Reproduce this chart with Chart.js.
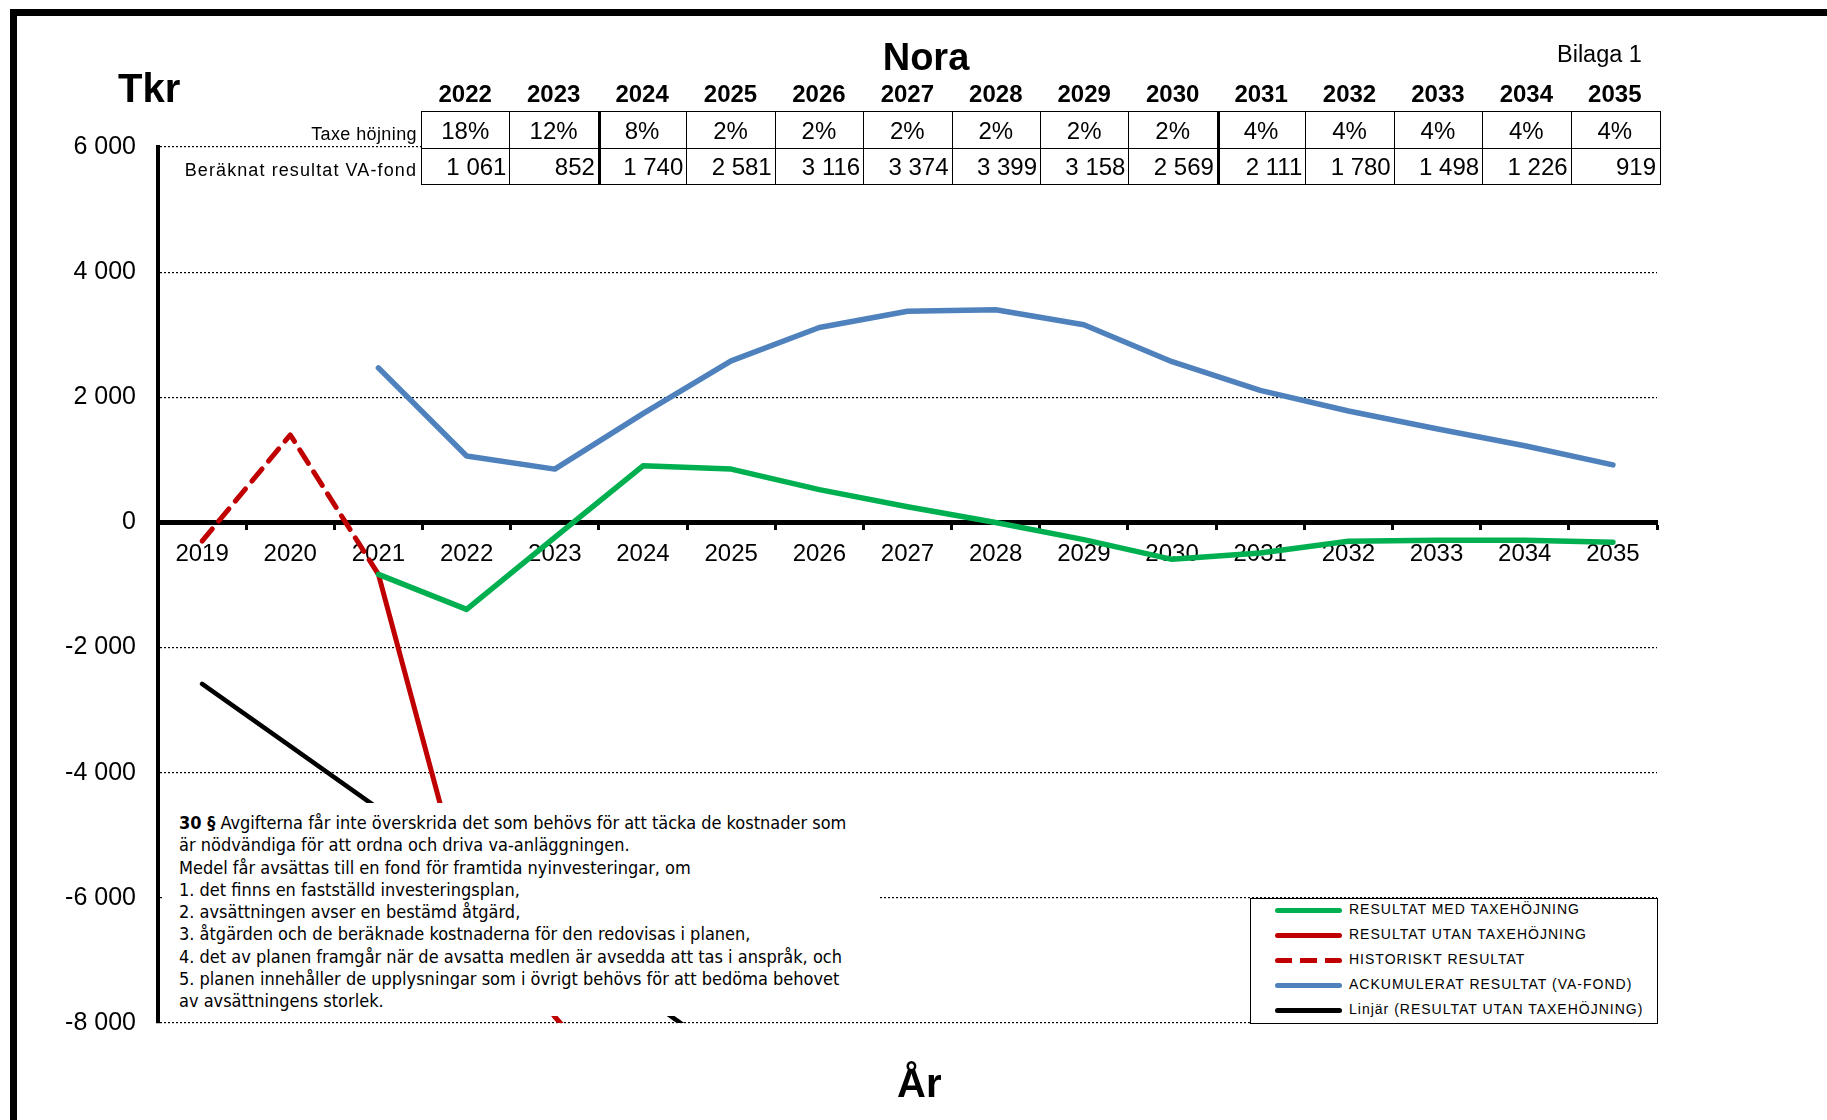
<!DOCTYPE html>
<html>
<head>
<meta charset="utf-8">
<script src="https://cdn.jsdelivr.net/npm/chart.js@4.4.1/dist/chart.umd.min.js"></script>
<style>
  body { margin: 0; background: #fff; }
  #wrap { position: relative; width: 1827px; height: 1120px; overflow: hidden; background: #fff; }
  #frame { position: absolute; left: 10px; top: 9px; width: 2000px; height: 2000px;
           border-top: 7px solid #000; border-left: 7px solid #000; }
  canvas { position: absolute; left: 0; top: 0; }
  .txt { position: absolute; white-space: nowrap; line-height: 1; color: #000; }
  .bold { font-family: 'Liberation Sans', Arial, sans-serif; font-weight: bold; }
  .cond { font-family: 'DejaVu Sans Condensed', 'DejaVu Sans', sans-serif; }
  .sans { font-family: 'Liberation Sans', Arial, sans-serif; }
  #title { left: 926px; top: 38px; font-size: 38px; transform: translateX(-50%); }
  #tkr { left: 118px; top: 68px; font-size: 40px; }
  #ar { left: 897px; top: 1063px; font-size: 40px; }
  #bilaga { left: 1557px; top: 43px; font-size: 23.5px; }
  .cell { position: absolute; box-sizing: border-box; border: 1.5px solid #000; background: #fff; }
  #note { position: absolute; left: 162px; top: 803px; width: 716px; height: 213px; background: #fff;
          box-sizing: border-box; padding: 9px 0 0 17px; font-size: 18px; line-height: 22.3px;
          white-space: nowrap; }
  #legend { position: absolute; left: 1250px; top: 898px; width: 408px; height: 126px; background: #fff;
            box-sizing: border-box; border: 1.5px solid #000; }
  .lgItem { position: absolute; left: 24px; height: 20px; }
  .lgLine { position: absolute; left: 0; top: 8px; width: 67px; height: 0; border-top: 5px solid; border-radius: 3px; }
  .lgText { position: absolute; left: 74px; top: 2px; font-size: 14px; letter-spacing: 1px; }
</style>
</head>
<body>
<div id="wrap">
  <div id="frame"></div>
  <canvas id="myChart" width="1827" height="1120"></canvas>
  <div id="title" class="txt bold">Nora</div>
  <div id="tkr" class="txt bold">Tkr</div>
  <div id="ar" class="txt bold">År</div>
  <div id="bilaga" class="txt sans">Bilaga 1</div>
  <div id="table"></div>
  <div id="note" class="cond">
    <b>30 §</b> Avgifterna får inte överskrida det som behövs för att täcka de kostnader som<br>
    är nödvändiga för att ordna och driva va-anläggningen.<br>
    Medel får avsättas till en fond för framtida nyinvesteringar, om<br>
    1. det finns en fastställd investeringsplan,<br>
    2. avsättningen avser en bestämd åtgärd,<br>
    3. åtgärden och de beräknade kostnaderna för den redovisas i planen,<br>
    4. det av planen framgår när de avsatta medlen är avsedda att tas i anspråk, och<br>
    5. planen innehåller de upplysningar som i övrigt behövs för att bedöma behovet<br>
    av avsättningens storlek.
  </div>
  <div id="legend"></div>
</div>
<script>
const years = ["2019", "2020", "2021", "2022", "2023", "2024", "2025", "2026", "2027",
  "2028", "2029", "2030", "2031", "2032", "2033", "2034", "2035"];

const resultatMedTaxe = [null, null, -830, -1390, -240, 905, 852, 525, 250, 0, -275, -590, -490, -300, -285, -285, -315];
const resultatUtanTaxe = [null, null, -830, -6070, -7900, -9500];
const historisktResultat = [-300, 1400, -830];
const ackumuleratResultat = [null, null, 2470, 1061, 852, 1740, 2581, 3116, 3374, 3399, 3158, 2569, 2111, 1780, 1498, 1226, 919];
const linjarTrend = [-2580, -3575, -4575, -5575, -6575, -7575, -8575];

const tableYears = years.slice(3);
const taxeHojning = ["18%", "12%", "8%", "2%", "2%", "2%", "2%", "2%", "2%", "4%", "4%", "4%", "4%", "4%"];
const vaFond = ackumuleratResultat.slice(3);

const fmtTkr = (v) => {
  const s = Math.abs(v).toString().replace(/\B(?=(\d{3})+(?!\d))/g, " ");
  return (v < 0 ? "-" : "") + s;
};

const axisFont = "'Liberation Sans', Arial, sans-serif";

const ctx = document.getElementById("myChart");
const myChart = new Chart(ctx, {
  type: "line",
  data: {
    labels: years,
    datasets: [
      { label: "RESULTAT MED TAXEHÖJNING", data: resultatMedTaxe, borderColor: "#00b050", borderWidth: 5.5 },
      { label: "RESULTAT UTAN TAXEHÖJNING", data: resultatUtanTaxe, borderColor: "#c00000", borderWidth: 5 },
      { label: "HISTORISKT RESULTAT", data: historisktResultat, borderColor: "#c00000", borderWidth: 5, borderDash: [16, 10] },
      { label: "ACKUMULERAT RESULTAT (VA-FOND)", data: ackumuleratResultat, borderColor: "#4f81bd", borderWidth: 5.5 },
      { label: "Linjär (RESULTAT UTAN TAXEHÖJNING)", data: linjarTrend, borderColor: "#000000", borderWidth: 4.5 },
    ],
  },
  options: {
    responsive: false,
    animation: false,
    layout: { padding: { left: 0, right: 170, top: 147, bottom: 97 } },
    plugins: { legend: { display: false }, tooltip: { enabled: false } },
    elements: {
      point: { radius: 0 },
      line: { tension: 0, borderCapStyle: "round", borderJoinStyle: "round", fill: false },
    },
    scales: {
      x: {
        position: { y: 0 },
        offset: true,
        grid: { drawOnChartArea: false, drawTicks: true, tickLength: 5, tickWidth: 3, tickColor: "#000", offset: true },
        border: { display: true, color: "#000", width: 5 },
        ticks: { color: "#000", font: { family: axisFont, size: 24 }, padding: 13, maxRotation: 0, autoSkip: false },
      },
      y: {
        min: -8000,
        max: 6000,
        afterFit: (scale) => { scale.width = 158; },
        grid: { color: "#000", lineWidth: 1.2, drawTicks: false },
        border: { display: true, color: "#000", width: 4, dash: [2, 2] },
        ticks: { stepSize: 2000, color: "#000", padding: 22, font: { family: axisFont, size: 25 }, callback: (v) => fmtTkr(v) },
      },
    },
  },
});

// table above the plot, columns follow the year slots 2022-2035
const table = document.getElementById("table");
const colLeft = 421, colW = 88.43, rowTop = 111, rowH = 37;
let html = "";
tableYears.forEach((yr, i) => {
  const left = colLeft + i * colW;
  html += `<div class="txt bold" style="font-size:24px;left:${left}px;width:${colW}px;top:82px;text-align:center">${yr}</div>`;
  const thick = (i === 2 || i === 9) ? "border-left-width:3px;" : "";
  html += `<div class="cell" style="left:${left}px;top:${rowTop}px;width:${colW + 1.5}px;height:${rowH + 1.5}px;${thick}"></div>`;
  html += `<div class="cell" style="left:${left}px;top:${rowTop + rowH}px;width:${colW + 1.5}px;height:${rowH}px;${thick}"></div>`;
  html += `<div class="txt sans" style="font-size:24px;left:${left}px;width:${colW}px;top:119px;text-align:center">${taxeHojning[i]}</div>`;
  html += `<div class="txt sans" style="font-size:24px;left:${left}px;width:${colW - 3}px;top:155px;text-align:right">${fmtTkr(vaFond[i])}</div>`;
});
html += `<div class="txt sans" style="font-size:18px;letter-spacing:0.4px;left:0;width:417px;text-align:right;top:125px">Taxe höjning</div>`;
html += `<div class="txt sans" style="font-size:18px;letter-spacing:1.1px;left:0;width:417px;text-align:right;top:161px">Beräknat resultat VA-fond</div>`;
table.innerHTML = html;

// legend box in the lower right corner
const legend = document.getElementById("legend");
let lg = "";
myChart.data.datasets.forEach((ds, i) => {
  const style = ds.borderDash
    ? `border-top:none;height:5px;background:repeating-linear-gradient(90deg, ${ds.borderColor} 0 17px, transparent 17px 25px);`
    : `border-color:${ds.borderColor};`;
  lg += `<div class="lgItem" style="top:${0.5 + i * 25}px"><div class="lgLine" style="${style}"></div>` +
        `<div class="lgText txt sans">${ds.label}</div></div>`;
});
legend.innerHTML = lg;
</script>
</body>
</html>
